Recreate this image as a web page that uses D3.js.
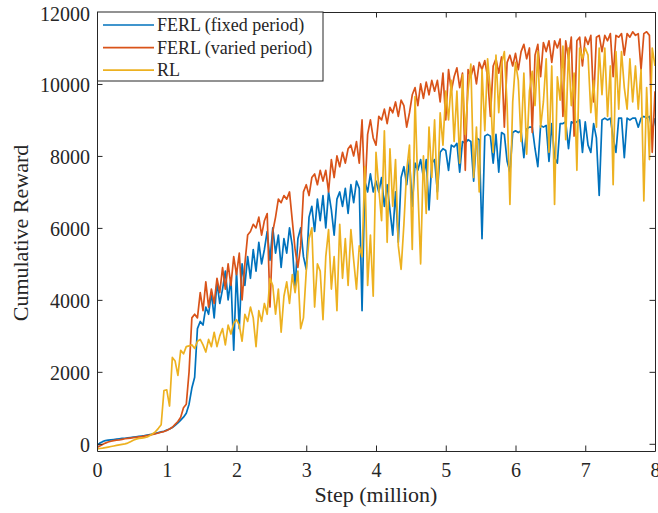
<!DOCTYPE html>
<html>
<head>
<meta charset="utf-8">
<script src="https://cdn.jsdelivr.net/npm/d3@7"></script>
<style>
  body { margin: 0; background: #fff; }
  svg text { font-family: "Liberation Serif", "Times New Roman", serif; fill: #262626; }
</style>
</head>
<body>
<svg id="chart"></svg>
<script>
// Sample grid: one point every 0.04 million steps, 0..8
const stepSize = 0.04;
const nPoints = 201;

// FERL (fixed period)
const fixedPeriod = [
  -50, 20, 60, 90, 100, 110, 120, 130, 140, 150,
  155, 165, 175, 185, 195, 205, 215, 225, 240, 255,
  270, 290, 310, 330, 350, 380, 410, 450, 510, 580,
  660, 740, 850, 1100, 1550, 1850, 3200, 3400, 3300, 3800,
  3600, 4200, 3500, 4500, 3900, 4300, 4800, 4000, 4600, 2600,
  4800, 3200, 5000, 4400, 5200, 4600, 5400, 4800, 5600, 5000,
  5400, 5900, 5100, 6000, 5300, 5800, 4900, 5700, 5300, 6000,
  5500, 4300, 5700, 6000, 5200, 4850, 6300, 6600, 5900, 6800,
  6200, 6900, 6000, 7000, 6500, 5800, 6800, 7000, 6600, 7100,
  6400, 7200, 6700, 7300, 7100, 3700, 7300, 7000, 7500, 7000,
  7300, 7000, 7400, 6600, 7200, 6500, 5800, 7000, 5600, 7400,
  7700, 7200, 7900, 6600, 7800, 7600, 7900, 7400, 7900, 6500,
  7800, 7900, 7000, 8100, 8200, 8150, 7600, 8300, 8250, 8350,
  7550, 8400, 8350, 8450, 8400, 7300, 8500, 8450, 5700, 8550,
  8600, 8550, 7800, 8600, 7550, 8650, 8600, 7850, 7550, 8650,
  8700, 8650, 8700, 7950, 8750, 8800, 8800, 8200, 7700, 8850,
  8800, 8850, 7850, 8900, 7950, 7800, 8900, 8900, 8950, 8200,
  8950, 8900, 8950, 9000, 8100, 8950, 8300, 8100, 8900, 8500,
  6900, 9000, 9050, 9000, 9050, 8500, 8100, 9050, 9050, 7950,
  9050, 9000, 9050, 9050, 8800, 9050, 9100, 9050, 9100, 8700,
  9050
];

// FERL (varied period)
const variedPeriod = [
  -100, -60, -20, 20, 50, 70, 90, 100, 110, 125,
  140, 150, 160, 170, 180, 190, 200, 215, 230, 245,
  260, 280, 300, 320, 340, 370, 410, 460, 540, 620,
  740, 1000, 1100, 2000, 3500, 3600, 3500, 4200, 3700, 4500,
  3800, 4300, 3900, 4600, 4200, 4900, 4300, 5000, 4400, 5200,
  4700, 5300, 4000, 5000, 5800, 5900, 6100, 6000, 6300, 5800,
  6200, 6400, 3800, 5900, 6300, 6800, 6700, 6900, 6800, 7000,
  6200, 5400, 4900, 5500, 7000, 7200, 6900, 7400, 7500, 7200,
  7600, 7300, 7600, 7000, 7900, 7400, 8000, 7700, 8100, 7800,
  8200, 8300, 8000, 8400, 7800, 9000, 6900, 8600, 9000, 8500,
  8300, 9100, 9000, 9300, 8900, 9350, 9200, 9500, 9100, 9550,
  9400, 8800, 9200, 9700, 9900, 9400, 10000, 9600, 10050, 9700,
  10100, 9800, 10100, 9500, 10300, 9000, 10400, 9800, 10200, 10450,
  9900, 10300, 7600, 10400, 10200, 10500, 10000, 10600, 10400, 10650,
  10200, 9100, 10500, 10700, 10300, 10750, 8800, 10600, 10800, 10500,
  10850, 10400, 10900, 11100, 10700, 11000, 8650, 10800, 11100, 10200,
  11150, 10900, 11200, 10600, 11200, 11000, 11250, 9100, 11200, 10700,
  11300, 8550, 11200, 11300, 10500, 11300, 11100, 11350, 9500, 11300,
  11350, 10900, 11350, 11200, 11400, 10200, 11350, 11300, 11400, 10800,
  11400, 11300, 11450, 11350, 11400, 10400, 11400, 11450, 11350, 8100,
  9800
];

// RL
const rl = [
  -140, -130, -120, -105, -90, -75, -60, -45, -30, -15,
  0, 20, 60, 100, 130, 150, 160, 170, 190, 230,
  280, 340, 430, 530, 1480, 1500, 1050, 2400, 2300, 1900,
  2600, 2500, 2700, 2720, 2750, 2650, 2850, 2900, 2750, 2550,
  2900, 2700, 3100, 2700, 3000, 3200, 2750, 3300, 3050, 3350,
  3450, 3300, 2850, 3600, 3400, 3800, 3500, 2700, 3700, 3400,
  3900, 3600, 4600, 4400, 3600, 4300, 3100, 4100, 4500, 3900,
  4700, 4200, 4800, 3200, 3500, 4800, 5700, 6000, 3800, 5000,
  4800, 3450, 5200, 5950, 4300, 5200, 3700, 6100, 4600, 5700,
  4400, 5950, 5100, 4300, 5500, 5200, 7700, 4400, 5800, 4100,
  8100, 7100, 6200, 8700, 5600, 8200, 6600, 7900, 5500, 4850,
  6100, 7600, 8300, 5400, 9650, 7100, 5000, 8000, 6400, 8800,
  7400, 9000, 6800, 9200, 8300, 9800, 9000, 10100, 8400, 9800,
  7800, 10250, 8600, 9800, 10550, 7400, 8800, 7000, 10400, 8700,
  10700, 9800, 8100, 10800, 9200, 10550, 10900, 9400, 6650, 9500,
  10600, 10100, 8400, 10300, 8050, 9800, 10350, 9400, 10900, 8800,
  9500, 10700, 8100, 10500, 6650, 10200, 9550, 11050, 8450, 11000,
  9400, 10300, 7600, 11000, 10700, 11000, 10800, 9200, 10100, 8800,
  11000, 9700, 11000, 9100, 10500, 7200, 10900, 9300, 10900, 9900,
  9300, 10700, 9500, 10500, 9300, 10400, 6750, 9900, 7900, 11000,
  10500
];

const seriesNames = ['FERL (fixed period)', 'FERL (varied period)', 'RL'];
const seriesColors = ['#0072BD', '#D95319', '#EDB120'];
const xTicks = [0, 1, 2, 3, 4, 5, 6, 7, 8];
const yTicks = [0, 2000, 4000, 6000, 8000, 10000, 12000];

const steps = d3.range(nPoints).map(i => i * stepSize);
const series = [fixedPeriod, variedPeriod, rl];

const W = 658, H = 513;
const margin = {top: 12, right: 3, bottom: 62, left: 97};
const width = W - margin.left - margin.right;
const height = H - margin.top - margin.bottom;

const svg = d3.select('#chart')
    .attr('width', W)
    .attr('height', H);

const g = svg.append('g')
    .attr('transform', `translate(${margin.left},${margin.top})`);

const x = d3.scaleLinear().domain([0, 8]).range([0, width]);
const y = d3.scaleLinear().domain([-200, 12000]).range([height, 0]);

g.append('clipPath')
    .attr('id', 'plot-clip')
    .append('rect')
    .attr('width', width)
    .attr('height', height);

// Lines (drawn in plot order, RL on top)
const line = d3.line()
    .x((d, i) => x(steps[i]))
    .y(d => y(d));

series.forEach((s, k) => {
    g.append('path')
        .datum(s)
        .attr('clip-path', 'url(#plot-clip)')
        .attr('fill', 'none')
        .attr('stroke', seriesColors[k])
        .attr('stroke-width', 1.7)
        .attr('stroke-linejoin', 'round')
        .attr('d', line);
});

// Axes, MATLAB style: inward ticks on all four sides
const tickLen = 5.5;
function styleAxis(sel) {
    sel.selectAll('path, line').attr('stroke', '#262626').attr('stroke-width', 1);
    sel.selectAll('text').style('font-size', '20px').attr('fill', '#262626');
}

g.append('g')
    .attr('transform', `translate(0,${height})`)
    .call(d3.axisBottom(x).tickValues(xTicks).tickFormat(d3.format('d'))
        .tickSize(-tickLen).tickSizeOuter(0).tickPadding(12))
    .call(styleAxis);

g.append('g')
    .call(d3.axisTop(x).tickValues(xTicks).tickSize(-tickLen).tickSizeOuter(0).tickFormat(''))
    .call(styleAxis);

g.append('g')
    .call(d3.axisLeft(y).tickValues(yTicks).tickFormat(d3.format('d'))
        .tickSize(-tickLen).tickSizeOuter(0).tickPadding(7))
    .call(styleAxis)
    .selectAll('text').attr('dy', '0.4em');

g.append('g')
    .attr('transform', `translate(${width},0)`)
    .call(d3.axisRight(y).tickValues(yTicks).tickSize(-tickLen).tickSizeOuter(0).tickFormat(''))
    .call(styleAxis);

// Axis labels
svg.append('text')
    .attr('x', 376)
    .attr('y', 502)
    .attr('text-anchor', 'middle')
    .style('font-size', '22px')
    .text('Step (million)');

svg.append('text')
    .attr('transform', 'rotate(-90)')
    .attr('x', -233)
    .attr('y', 28)
    .attr('text-anchor', 'middle')
    .style('font-size', '22px')
    .text('Cumulative Reward');

// Legend
const legend = g.append('g');
legend.append('rect')
    .attr('x', 0.5)
    .attr('y', 0)
    .attr('width', 225.5)
    .attr('height', 69)
    .attr('fill', '#fff')
    .attr('stroke', '#262626')
    .attr('stroke-width', 1);

seriesNames.forEach((name, k) => {
    const cy = 13 + k * 22.6;
    legend.append('line')
        .attr('x1', 6)
        .attr('x2', 57)
        .attr('y1', cy)
        .attr('y2', cy)
        .attr('stroke', seriesColors[k])
        .attr('stroke-width', 1.7);
    legend.append('text')
        .attr('x', 60)
        .attr('y', cy)
        .attr('dy', '0.33em')
        .style('font-size', '18px')
        .text(name);
});
</script>
</body>
</html>
